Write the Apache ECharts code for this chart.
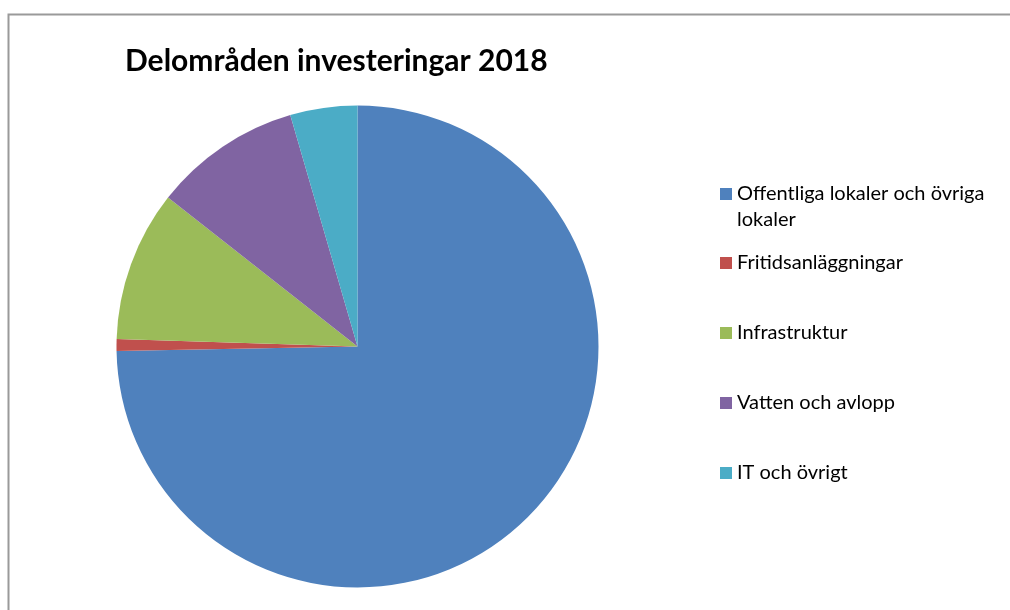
<!DOCTYPE html>
<html>
<head>
<meta charset="utf-8">
<script src="https://cdn.jsdelivr.net/npm/echarts@6/dist/echarts.min.js"></script>
<style>
  html, body { margin: 0; padding: 0; background: #fff; }
  #chart { width: 1010px; height: 610px; }
</style>
</head>
<body>
<div id="chart"></div>
<script>
const titleText = 'Delområden investeringar 2018';
const categories = [
  'Offentliga lokaler och övriga lokaler',
  'Fritidsanläggningar',
  'Infrastruktur',
  'Vatten och avlopp',
  'IT och övrigt'
];
const legendLabels = [
  'Offentliga lokaler och övriga\nlokaler',
  'Fritidsanläggningar',
  'Infrastruktur',
  'Vatten och avlopp',
  'IT och övrigt'
];
const values = [74.7, 0.8, 10.1, 9.9, 4.5];
const colors = ['#4F81BD', '#C0504D', '#9BBB59', '#8064A2', '#4BACC6'];

const FONT = 'Lato';
const chart = echarts.init(document.getElementById('chart'), null, { renderer: 'canvas' });

const legendText = {
  fontFamily: FONT,
  fontSize: 20,
  color: '#000000',
  lineHeight: 26
};

chart.setOption({
  animation: false,
  backgroundColor: '#ffffff',
  color: colors,
  title: {
    text: titleText,
    left: 125,
    top: 46,
    padding: 0,
    textStyle: {
      fontFamily: FONT,
      fontSize: 30,
      fontWeight: 'bold',
      color: '#000000'
    }
  },
  legend: [
    {
      // first entry wraps onto two lines; the leading empty line keeps the
      // icon aligned with the first text line, as in the reference
      orient: 'vertical',
      left: 720,
      top: 155,
      padding: 0,
      icon: 'rect',
      itemWidth: 12,
      itemHeight: 12,
      selectedMode: false,
      data: [categories[0]],
      formatter: function (name) { return '\n' + legendLabels[categories.indexOf(name)]; },
      textStyle: legendText
    },
    {
      orient: 'vertical',
      left: 720,
      top: 250,
      padding: 0,
      icon: 'rect',
      itemWidth: 12,
      itemHeight: 12,
      itemGap: 44,
      selectedMode: false,
      data: categories.slice(1),
      formatter: function (name) { return legendLabels[categories.indexOf(name)]; },
      textStyle: legendText
    }
  ],
  graphic: [
    {
      type: 'rect',
      silent: true,
      shape: { x: 8.5, y: 14.5, width: 1200, height: 800 },
      style: { fill: 'none', stroke: '#9a9a9a', lineWidth: 2 }
    }
  ],
  series: [
    {
      type: 'pie',
      center: [357.5, 346.5],
      radius: 241,
      startAngle: 90,
      clockwise: true,
      label: { show: false },
      labelLine: { show: false },
      emphasis: { disabled: true },
      itemStyle: { borderWidth: 0 },
      data: categories.map(function (c, i) { return { name: c, value: values[i] }; })
    }
  ]
});
</script>
</body>
</html>
